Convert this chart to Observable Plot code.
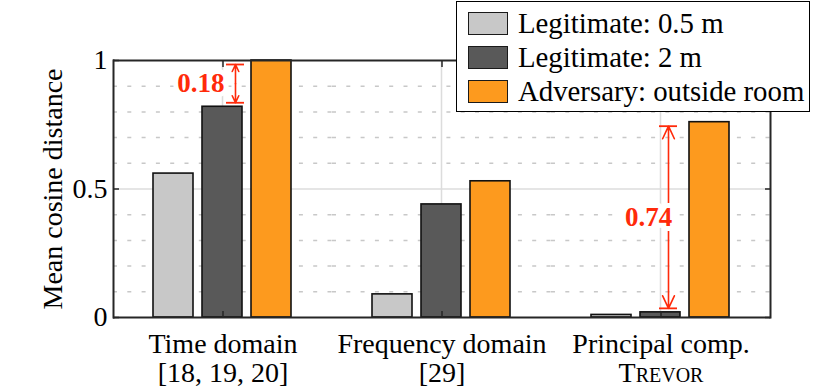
<!DOCTYPE html>
<html><head><meta charset="utf-8">
<script src="https://cdn.jsdelivr.net/npm/d3@7"></script>
<script src="https://cdn.jsdelivr.net/npm/@observablehq/plot@0.6"></script>
<style>
body{margin:0;background:#fff;}
#wrap{position:relative;width:830px;height:392px;font-family:"Liberation Serif",serif;}
#legend{position:absolute;left:456px;top:1px;width:354px;height:111px;border:1.3px solid #000;background:#fff;box-sizing:border-box;}
#legend .row{position:absolute;left:11px;height:24px;display:flex;align-items:center;font-size:28.8px;color:#000;white-space:nowrap;}
#legend .sw{width:40px;height:23px;border:1.6px solid #1a1a1a;margin-right:10px;box-sizing:border-box;flex:none;}
</style>
</head><body>
<div id="wrap"><div id="chart"></div><div id="legend"></div></div>
<script>
const groups = ["Time domain", "Frequency domain", "Principal comp."];
const groupRefs = ["[18, 19, 20]", "[29]", "Trevor"];
const series = ["Legitimate: 0.5 m", "Legitimate: 2 m", "Adversary: outside room"];
const colors = ["#c8c8c8", "#595959", "#fd9a1e"];
const legit05 = [0.56, 0.09, 0.01];
const legit2 = [0.82, 0.44, 0.02];
const adversary = [1.00, 0.53, 0.76];
const yTicks = [0, 0.5, 1];
const minorTicks = [0.1, 0.2, 0.3, 0.4, 0.6, 0.7, 0.8, 0.9];
const gapGroups = ["Time domain", "Principal comp."];
const gapLow = [0.82, 0.02];
const gapHigh = [1.00, 0.76];
const gapLabels = ["0.18", "0.74"];

const seriesValues = [legit05, legit2, adversary];
const data = groups.flatMap((g, gi) => series.map((s, si) => ({group: g, series: s, value: seriesValues[si][gi]})));
const gaps = gapGroups.map((g, i) => ({group: g, lo: gapLow[i], hi: gapHigh[i], mid: (gapLow[i] + gapHigh[i]) / 2, label: gapLabels[i]}));

const red = "#ff2a0a";
const ink = "#262626";
const FS = 28;
const arrowDx = [13, 8];
const labelDx = [2, -12];
const labelAnchor = ["end", "middle"];

const annot = gaps.flatMap((g, i) => {
  const d = [g];
  const common = {fx: "group", x: () => series[1], dx: arrowDx[i]};
  return [
    Plot.arrow(d, {...common, x1: () => series[1], x2: () => series[1], y1: "mid", y2: "hi", stroke: red, strokeWidth: 1.6, headLength: 13, headAngle: 50, insetEnd: 4}),
    Plot.arrow(d, {...common, x1: () => series[1], x2: () => series[1], y1: "mid", y2: "lo", stroke: red, strokeWidth: 1.6, headLength: 13, headAngle: 50, insetEnd: 4}),
    Plot.tickY(d, {...common, y: "hi", dy: 4, insetLeft: 11, insetRight: 11, stroke: red, strokeWidth: 1.8}),
    Plot.tickY(d, {...common, y: "lo", dy: -4, insetLeft: 11, insetRight: 11, stroke: red, strokeWidth: 1.8}),
    Plot.text(d, {fx: "group", x: () => series[1], y: "mid", text: "label", dx: labelDx[i], textAnchor: labelAnchor[i], fill: red, fontWeight: "bold", fontSize: 27, stroke: "white", strokeWidth: 10})
  ];
});

const chart = Plot.plot({
  width: 830, height: 392,
  marginLeft: 113, marginRight: 60, marginTop: 60, marginBottom: 75,
  style: {fontFamily: "'Liberation Serif', serif", fontSize: FS + "px", background: "white", color: "#000"},
  fx: {domain: groups, padding: 0},
  x: {domain: series, paddingInner: 0.18, paddingOuter: 0.82, axis: null},
  y: {domain: [0, 1]},
  color: {domain: series, range: colors},
  marks: [
    Plot.ruleY(minorTicks, {stroke: "#c8c8c8", strokeDasharray: "4,10.3", strokeWidth: 1.5}),
    Plot.ruleY([0.5], {stroke: "#dcdcdc", strokeWidth: 1.5}),
    Plot.ruleX([series[1]], {stroke: "#dcdcdc", strokeWidth: 1.5}),
    Plot.barY(data, {fx: "group", x: "series", y: "value", fill: "series", stroke: "#111", strokeWidth: 1.6}),
    Plot.ruleY([0, 1], {stroke: ink, strokeWidth: 2}),
    Plot.frame({anchor: "left", facetAnchor: "left", stroke: ink, strokeWidth: 2}),
    Plot.frame({anchor: "right", facetAnchor: "right", stroke: ink, strokeWidth: 2}),
    Plot.axisY(yTicks, {anchor: "left", tickSize: 0, tickPadding: 6, tickFormat: d => String(d), fontSize: FS, label: "Mean cosine distance", labelAnchor: "center", labelArrow: "none", labelOffset: 71}),
    Plot.axisY(yTicks, {anchor: "left", tickSize: 6, dx: 6, tickFormat: () => "", label: null, stroke: ink, strokeWidth: 1.5}),
    Plot.axisY(yTicks, {anchor: "right", tickSize: 6, dx: -6, tickFormat: () => "", label: null, stroke: ink, strokeWidth: 1.5}),
    Plot.axisFx({anchor: "bottom", tickSize: 6, dy: -6, tickFormat: () => "", label: null, stroke: ink, strokeWidth: 1.5}),
    Plot.axisFx({anchor: "top", tickSize: 6, dy: 6, tickFormat: () => "", label: null, stroke: ink, strokeWidth: 1.5}),
    Plot.text(groups, {fx: d => d, text: d => d, frameAnchor: "bottom", dy: 27, lineAnchor: "middle", fontSize: FS, fill: "#000"}),
    Plot.text(groupRefs, {fx: (d, i) => groups[i], text: d => d, frameAnchor: "bottom", dy: 56, lineAnchor: "middle", fontSize: FS, fontVariant: "small-caps", fill: "#000"}),
    ...annot
  ]
});
document.getElementById("chart").appendChild(chart);

const legend = document.getElementById("legend");
series.forEach((s, i) => {
  const row = document.createElement("div");
  row.className = "row";
  row.style.top = (9 + i * 34) + "px";
  const sw = document.createElement("div");
  sw.className = "sw";
  sw.style.background = colors[i];
  const t = document.createElement("span");
  t.textContent = s;
  row.appendChild(sw); row.appendChild(t);
  legend.appendChild(row);
});
</script>
</body></html>
